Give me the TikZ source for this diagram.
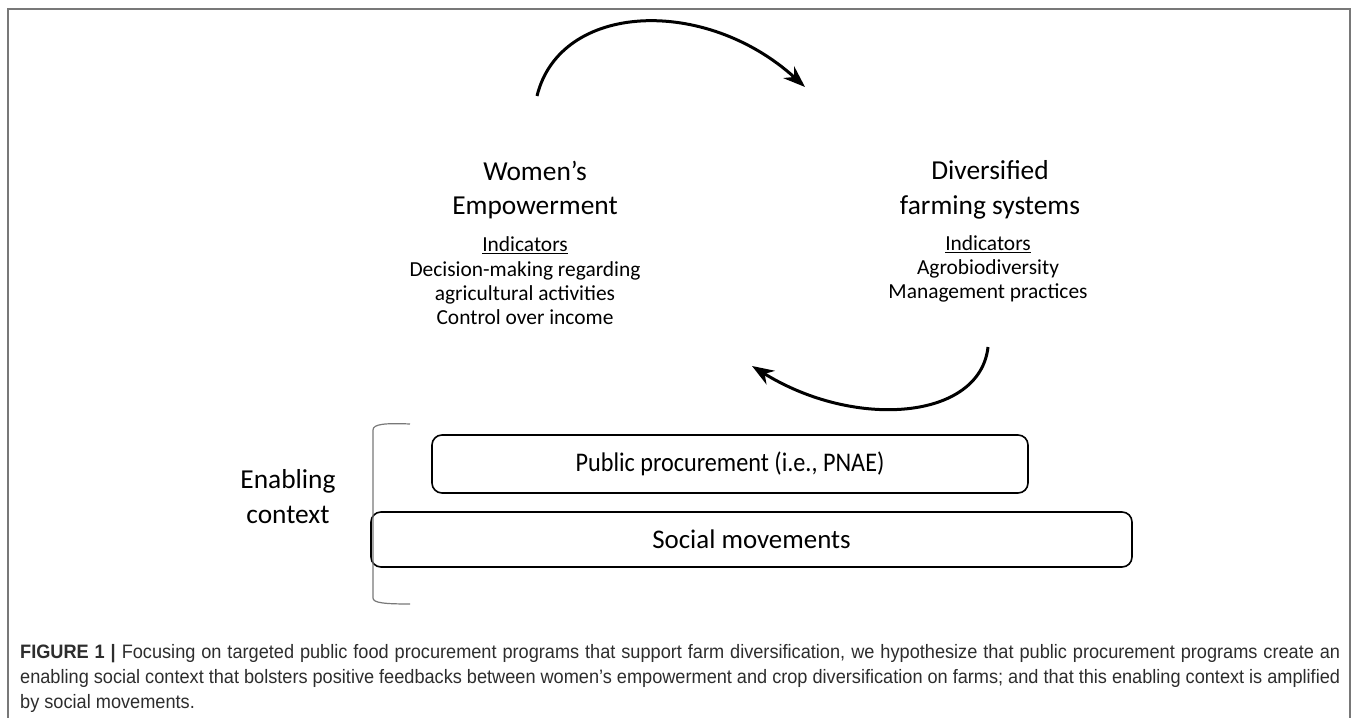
\documentclass[tikz,border=0pt]{standalone}
\usepackage{fontspec}
\setmainfont{Carlito}
\newfontfamily\capfont{Liberation Sans}[FakeStretch=0.935]
\newfontfamily\narrowfont{Carlito}[FakeStretch=0.9]
\usetikzlibrary{arrows.meta}
\definecolor{framecol}{RGB}{120,120,120}
\definecolor{capcol}{RGB}{45,45,45}
\begin{document}
\begin{tikzpicture}[
    title/.style={align=center,font=\fontsize{27.5}{35}\selectfont},
    indic/.style={align=center,font=\fontsize{21.5}{24.5}\selectfont},
    layer/.style={draw,rectangle,rounded corners=10bp,line width=1.6bp,inner sep=0pt,font=\fontsize{27}{33}\selectfont},
    loop/.style={-{Stealth[length=22bp,width=16bp]},line width=3bp}]
  \useasboundingbox (0bp,0bp) rectangle (1358bp,718bp);
  \draw [framecol,line width=2bp] (8bp,0bp) -- (8bp,709bp) -- (1350bp,709bp) -- (1350bp,0bp);
  \node (Women) at (535bp,528bp) [title] {Women’s\\Empowerment};
  \node (WomenInd) at (525bp,437bp) [indic] {\underline{Indicators}\\Decision-making regarding\\agricultural activities\\Control over income};
  \node (Farming) at (990bp,528bp) [title] {Diversified\\farming systems};
  \node (FarmingInd) at (988bp,449bp) [indic] {\underline{Indicators}\\Agrobiodiversity\\Management practices};
  \node (Public) at (730bp,254bp) [layer,minimum width=596bp,minimum height=58bp] {\narrowfont Public procurement (i.e., PNAE)};
  \node (Social) at (751.5bp,178.5bp) [layer,minimum width=761bp,minimum height=55bp] {Social movements};
  \node (Enabling) at (288bp,221bp) [title] {Enabling\\context};
  % bracket round the enabling context
  \draw [framecol,line width=1.2bp] (410bp,294bp) .. controls (385bp,295bp) and (373bp,294bp) .. (373bp,288bp) -- (373bp,120bp) .. controls (373bp,115bp) and (385bp,114bp) .. (410bp,114bp);
  % feedback loop
  \coordinate (TopStart) at (537bp,622bp);
  \coordinate (TopEnd) at (805bp,631bp);
  \coordinate (LowStart) at (988bp,371bp);
  \coordinate (LowEnd) at (752bp,352bp);
  \draw [loop] (TopStart) .. controls (560bp,716bp) and (705bp,722bp) .. (TopEnd);
  \draw [loop] (LowStart) .. controls (980bp,298bp) and (855bp,288bp) .. (LowEnd);
  \node (Caption) at (20bp,74bp) [anchor=north west,inner sep=0pt,text width=1320bp,align=justify,text=capcol,font=\capfont\fontsize{19.5}{25}\selectfont] {\textbf{FIGURE 1 |} Focusing on targeted public food procurement programs that support farm diversification, we hypothesize that public procurement programs create an\linebreak enabling social context that bolsters positive feedbacks between women’s empowerment and crop diversification on farms; and that this enabling context is amplified\linebreak by social movements.};
\end{tikzpicture}
\end{document}
